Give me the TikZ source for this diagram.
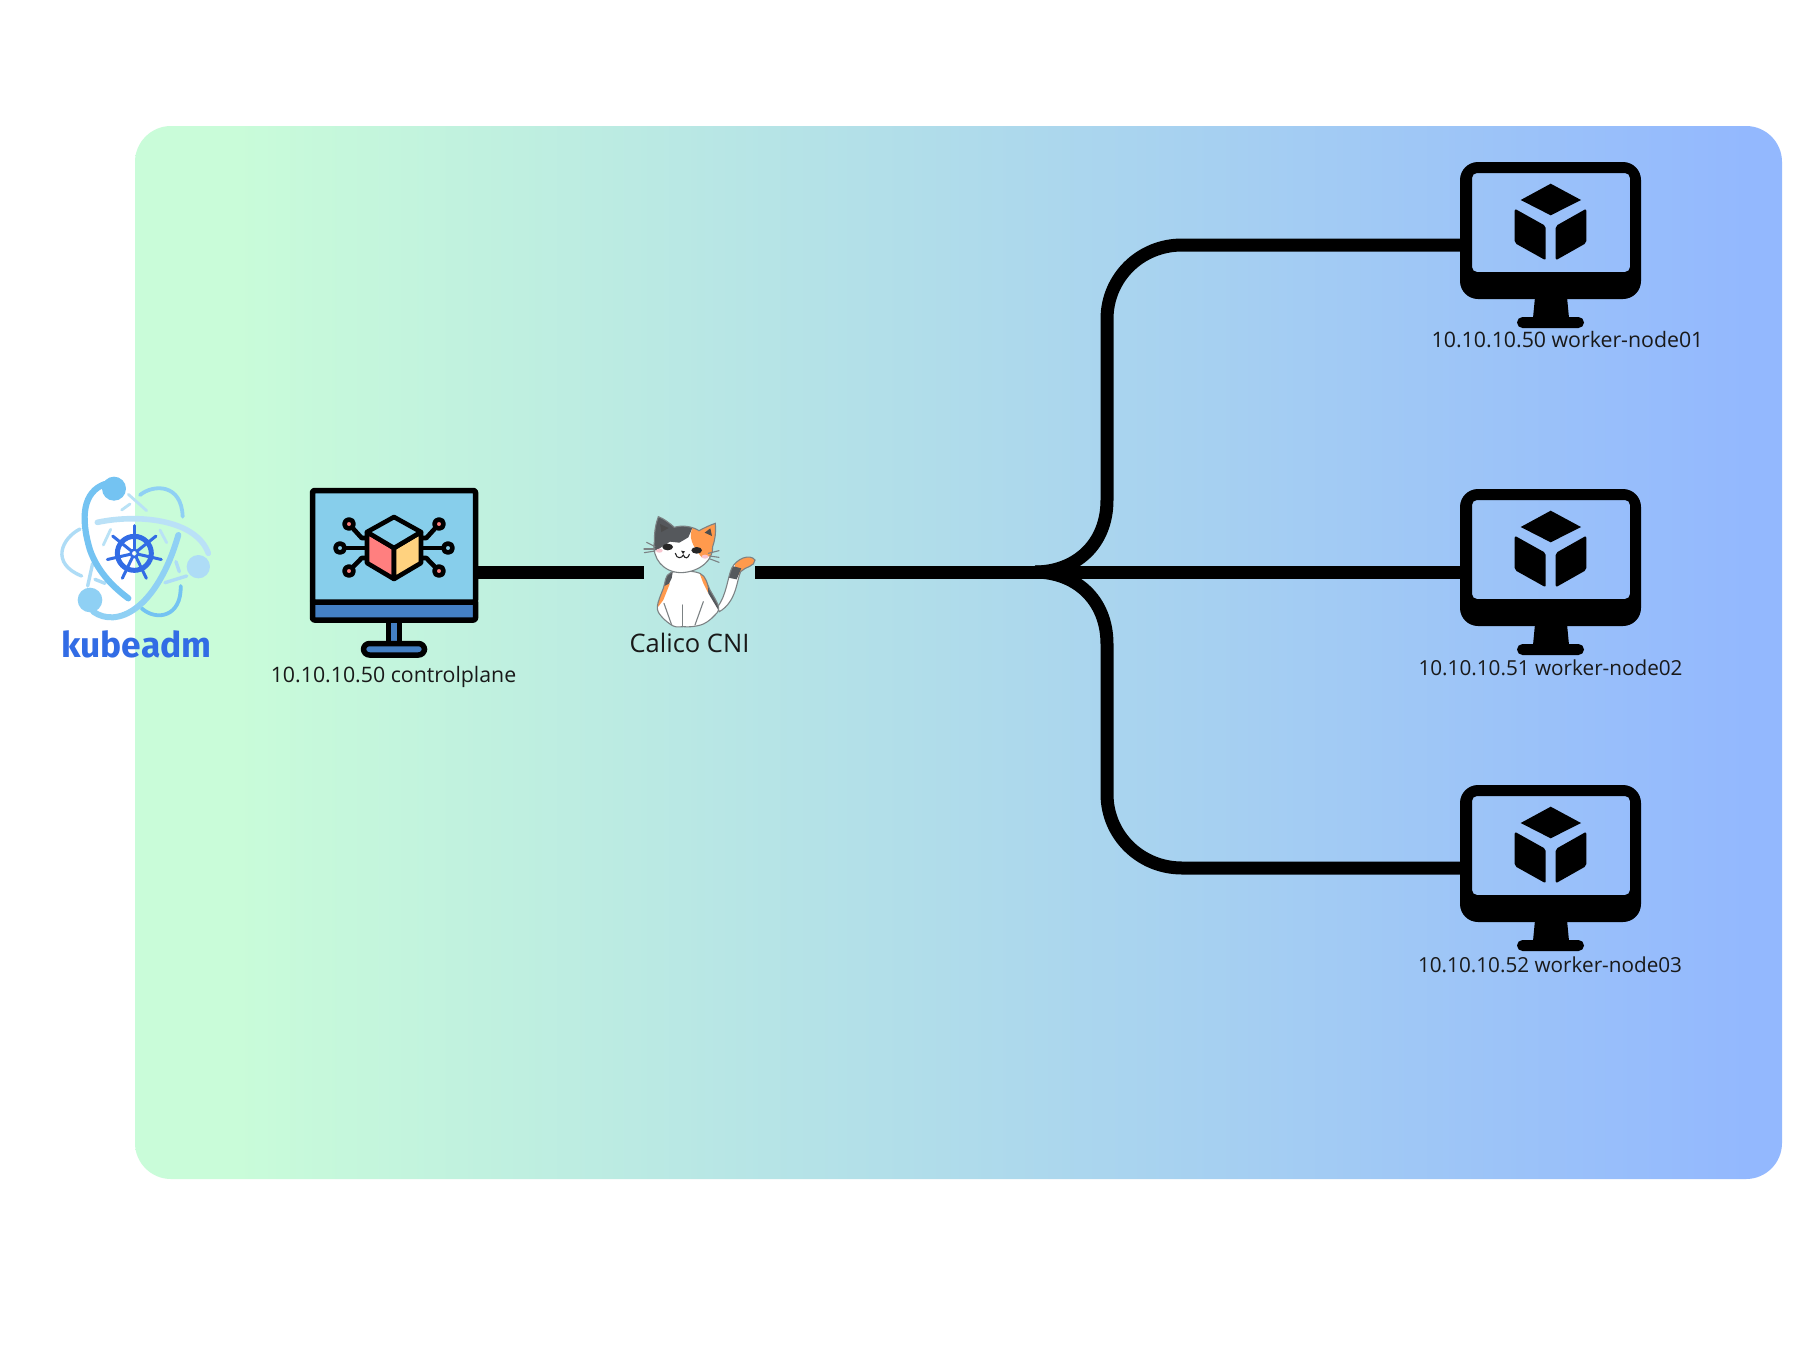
\documentclass[tikz,border=0pt]{standalone}
\usepackage{fontspec}
\setmainfont{Open Sans}
\newfontfamily\logofont{Fira Sans}
\definecolor{gl}{HTML}{C9FCD9}
\definecolor{gr}{HTML}{93B8FE}
\definecolor{scr}{HTML}{87CEEB}
\definecolor{bar}{HTML}{4480C4}
\definecolor{fred}{HTML}{FF7F7F}
\definecolor{fyel}{HTML}{FFD27F}
\definecolor{kblue}{HTML}{326CE5}
\definecolor{ka}{HTML}{74C3F2}
\definecolor{kb}{HTML}{8FD0F4}
\definecolor{kc}{HTML}{AEDCF6}
\definecolor{kd}{HTML}{B9E2F6}
\definecolor{catd}{HTML}{55585C}
\definecolor{cato}{HTML}{FF9A4D}
\definecolor{catl}{HTML}{7C8284}
\definecolor{catp}{HTML}{F8C5CF}
\pgfdeclarehorizontalshading{panelgrad}{100bp}{color(0bp)=(gl); color(28bp)=(gl); color(74bp)=(gr); color(100bp)=(gr)}
\newcommand\catbody{plot[smooth cycle,tension=0.6] coordinates {(152,218)(130,265)(112,320)(125,350)(160,378)(190,380)(215,380)(250,372)(280,350)(296,322)(270,270)(240,220)}}
\newcommand\cathead{(103,125) .. controls (103,90) and (108,70) .. (115,50) .. controls (130,55) and (150,70) .. (163,82) .. controls (185,75) and (215,78) .. (237,92) .. controls (250,85) and (270,75) .. (286,70) .. controls (288,100) and (285,120) .. (278,140) .. controls (280,180) and (240,215) .. (185,218) .. controls (130,218) and (95,175) .. (103,125) -- cycle}
\newcommand\cattail{(292,322) .. controls (320,285) and (322,235) .. (335,205) .. controls (350,175) and (390,160) .. (405,180) .. controls (405,200) and (375,200) .. (362,215) .. controls (350,240) and (350,305) .. (298,335) -- cycle}
\tikzset{
  x=1pt,y=-1pt,
  wire/.style={line width=13pt,black},
  box/.style={draw=none,fill=none,rectangle,inner sep=0pt,outer sep=0pt},
  lbl/.style={inner sep=0pt,text=black!90},
  lblw/.style={lbl,font=\fontsize{20.7}{24}\selectfont},
  lblc/.style={lbl,font=\fontsize{21.3}{25}\selectfont},
  mon/.style={draw=black,line width=5.5pt,line join=round},
  circ/.style={draw=black,line width=4.6pt,line cap=round,line join=round},
  workermon/.pic={
    \fill[even odd rule,rounded corners=18] (0,0) rectangle (181,137)
      [rounded corners=5] (12,11) rectangle (170,110);
    \fill (75,135) -- (73,156) -- (109,156) -- (107,135) -- cycle;
    \fill[rounded corners=5.5] (57,155) rectangle (124,166);
    \fill (90.7,21.7) -- (121,38) -- (90.7,53.3) -- (60.7,38) -- cycle;
    \fill[rounded corners=2] (54.7,46.7) -- (85.7,64) -- (85.7,98.3) -- (54.7,81) -- cycle;
    \fill[rounded corners=2] (126.3,46.7) -- (95.7,64) -- (95.7,98.3) -- (126.3,81) -- cycle;
  },
  thin1/.style={line width=3.8pt,line cap=round,draw=kb},
  thin2/.style={line width=3.4pt,line cap=round,draw=kc},
  thin3/.style={line width=2.8pt,line cap=round,draw=kd},
  catline/.style={draw=catl,line width=1.1pt,line cap=round},
}
\begin{document}
\begin{tikzpicture}
\useasboundingbox (0,0) rectangle (1800,1350);
\fill[white] (0,0) rectangle (1800,1350);
\node[rectangle,shading=panelgrad,rounded corners=36pt,inner sep=0pt,minimum width=1647pt,minimum height=1053pt] (panel) at (958.5,652.5) {};

% anchor boxes
\node[box,minimum width=168pt,minimum height=170pt] (ctrl) at (394,572) {};
\node[box,minimum width=111pt,minimum height=100pt] (cat) at (699.5,572) {};
\node[box,minimum width=181pt,minimum height=166pt] (w1) at (1550.5,245) {};
\node[box,minimum width=181pt,minimum height=166pt] (w2) at (1550.5,572) {};
\node[box,minimum width=181pt,minimum height=166pt] (w3) at (1550.5,868) {};
\coordinate (junction) at (1035,572);

% connectors
\draw[wire] (ctrl.east) -- (cat.west);
\draw[wire] (cat.east) -- (w2.west);
\draw[wire] (junction) .. controls (1075,572) and (1107,545) .. (1107,500) -- (1107,319) .. controls (1107,278) and (1140,245) .. (1182,245) -- (w1.west);
\draw[wire] (junction) .. controls (1075,572) and (1107,599) .. (1107,644) -- (1107,794) .. controls (1107,835) and (1140,868) .. (1182,868) -- (w3.west);

% control-plane monitor
\draw[mon,fill=bar] (388.5,620) rectangle (399.5,644);
\draw[mon,fill=bar,rounded corners=6] (363.5,643.5) rectangle (424.5,655);
\draw[mon,fill=bar,rounded corners=2] (312.5,600) rectangle (475.5,620);
\draw[mon,fill=scr,rounded corners=2] (312.5,490.5) rectangle (475.5,602);
\draw[circ] (349,524) -- (361.7,538) -- (367,538);
\draw[circ] (340,548) -- (367,548);
\draw[circ] (349,571) -- (361.7,558) -- (367,558);
\draw[circ] (439,524) -- (426.3,538) -- (421,538);
\draw[circ] (448,548) -- (421,548);
\draw[circ] (439,571) -- (426.3,558) -- (421,558);
\foreach \p/\c in {{349,524}/fred,{349,571}/fred,{439,524}/fred,{439,571}/fred,{340,548}/scr,{448,548}/scr}
  \draw[circ,fill=\c] (\p) circle[radius=4.6];
\draw[circ,fill=fred] (367,532) -- (394,548) -- (394,579) -- (367,563) -- cycle;
\draw[circ,fill=fyel] (421,532) -- (394,548) -- (394,579) -- (421,563) -- cycle;
\draw[circ,fill=scr] (394,517) -- (421,532) -- (394,548) -- (367,532) -- cycle;

% workers
\pic at (1460,162) {workermon};
\pic at (1460,489) {workermon};
\pic at (1460,785) {workermon};

% labels
\node[lblc] (lctrl) at (393.5,677) {10.10.10.50 controlplane};
\node[lblc] (lw1) at (1567.5,340) {10.10.10.50 worker-node01};
\node[lblw] (lw2) at (1550.5,668) {10.10.10.51 worker-node02};
\node[lblw] (lw3) at (1550,965) {10.10.10.52 worker-node03};
\node[lbl,font=\fontsize{25.5}{30}\selectfont] (lcat) at (689.5,643) {Calico CNI};
\node[inner sep=0pt,font=\logofont\bfseries\fontsize{35.4}{40}\selectfont,text=kblue,anchor=base] (lkube) at (136.5,657) {kubeadm};

% kubeadm logo
\begin{scope}[shift={(40,460)},x=0.33333pt,y=-0.33333pt]
  \draw[thin1] (300,105) .. controls (340,72) and (425,70) .. (428,170);
  \draw[thin2] (120,207) .. controls (65,235) and (30,310) .. (125,348);
  \draw[thin1,draw=ka] (305,445) .. controls (350,485) and (425,470) .. (422,378);
  \draw[thin3] (265,103) -- (320,152);
  \draw[thin3] (245,150) -- (270,132);
  \draw[thin3] (212,208) -- (190,255);
  \draw[thin3] (360,210) -- (380,248);
  \draw[thin2] (158,310) -- (143,378);
  \draw[thin2] (165,358) -- (195,370);
  \draw[thin2] (375,368) -- (440,348);
  \draw[thin2] (408,305) -- (418,335);
  \draw[line width=5.6pt,line cap=round,draw=kc!85] (172,187) .. controls (300,160) and (470,180) .. (505,280);
  \fill[kc] (475,320) circle[radius=35];
  \draw[line width=6pt,line cap=round,draw=kb] (160,455) .. controls (230,505) and (350,450) .. (415,225);
  \fill[kb] (150,420) circle[radius=37];
  \draw[line width=6.2pt,line cap=round,draw=ka] (195,72) .. controls (130,95) and (120,170) .. (150,270) .. controls (175,340) and (225,385) .. (265,415);
  \fill[ka] (222,86) circle[radius=36];
  \draw[kblue,line width=5pt] (283,280) circle[radius=51];
  \draw[kblue,line width=2.4pt] (283,280) circle[radius=11];
  \foreach \a in {90,38.6,-12.9,-64.3,-115.7,-167.1,141.4}
    \draw[kblue,line width=3pt,line cap=round] (283,280) ++(\a:-13) -- ++(\a:-70);
\end{scope}

% cat
\begin{scope}[shift={(620,500)},x=0.33333pt,y=-0.33333pt]
  \fill[white] \cattail;
  \begin{scope}
    \clip \cattail;
    \fill[cato] (345,150) rectangle (420,225);
    \fill[catd] (325,195) -- (364,205) -- (350,238) -- (320,232) -- cycle;
  \end{scope}
  \draw[catline] \cattail;
  \fill[white] \catbody;
  \begin{scope}
    \clip \catbody;
    \fill[catd] (120,200) -- (160,205) -- (155,235) -- (130,285) -- (110,290) -- cycle;
    \fill[cato] (100,320) -- (130,260) -- (150,250) -- (130,300) -- (115,320) -- cycle;
    \fill[cato] (235,210) -- (262,240) -- (265,280) -- (250,250) -- cycle;
    \fill[catd] (262,245) -- (310,310) -- (295,330) -- (265,280) -- cycle;
  \end{scope}
  \draw[catline] \catbody;
  \draw[catline] (132,310) -- (155,375);
  \draw[catline] (188,315) -- (188,378);
  \draw[catline] (250,305) -- (225,375);
  \fill[white] \cathead;
  \begin{scope}
    \clip \cathead;
    \fill[catd] (90,30) -- (170,60) -- (218,82) -- (205,112) -- (178,128) -- (150,125) -- (108,152) -- (90,130) -- cycle;
    \fill[cato] (218,82) .. controls (205,110) and (215,135) .. (245,172) -- (300,165) -- (300,55) -- (240,60) -- cycle;
    \fill[black!70] (120,72) -- (124,96) -- (146,84) -- cycle;
    \fill[black!70] (271,85) -- (276,108) -- (254,98) -- cycle;
  \end{scope}
  \draw[catline] \cathead;
  \fill[catp] (118,152) ellipse[x radius=10,y radius=6];
  \fill[catp] (255,170) ellipse[x radius=10,y radius=6];
  \fill[black!85] (143,141) ellipse[x radius=16,y radius=10];
  \fill[black!85] (230,151) ellipse[x radius=16,y radius=10];
  \draw[line width=1.1pt,black!85,line cap=round] (166,160) .. controls (170,178) and (185,175) .. (190,165) .. controls (195,178) and (205,175) .. (208,163);
  \fill[black!85] (183,152) -- (195,154) -- (189,162) -- cycle;
  \foreach \ax/\ay/\bx/\by in {80/127/105/140,72/147/105/147,73/158/105/153,297/152/265/160,297/172/268/168,297/187/268/176}
    \draw[catline] (\ax,\ay) -- (\bx,\by);
\end{scope}
\end{tikzpicture}
\end{document}
